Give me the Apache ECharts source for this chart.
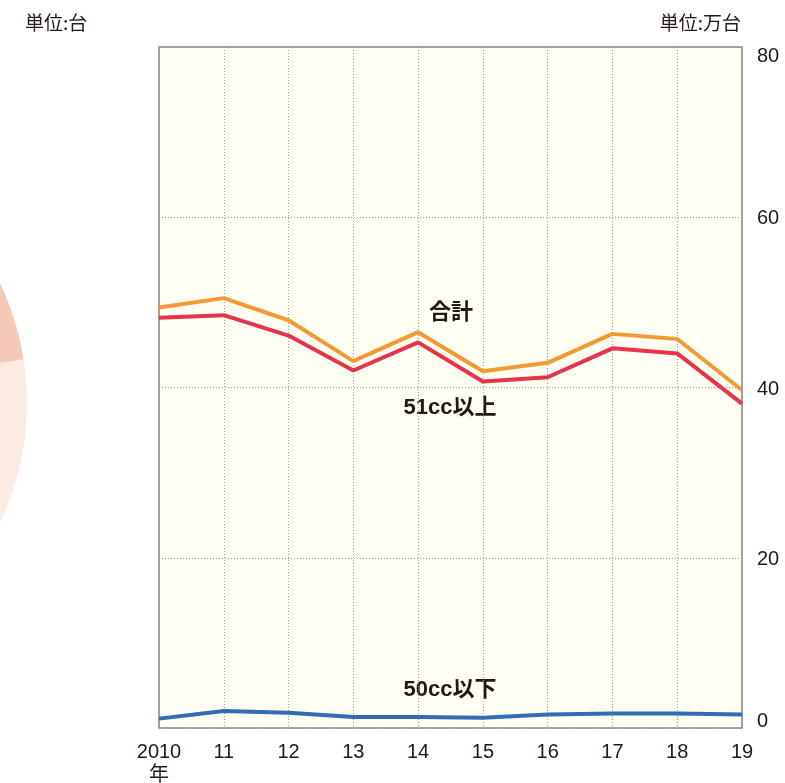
<!DOCTYPE html>
<html>
<head>
<meta charset="utf-8">
<script src="https://cdn.jsdelivr.net/npm/echarts@6/dist/echarts.min.js"></script>
<style>
  html, body { margin: 0; padding: 0; background: #ffffff; }
  #chart { width: 785px; height: 783px; }
</style>
</head>
<body>
<div id="chart"></div>
<script>
// Years on the x axis
const years = ['2010', '11', '12', '13', '14', '15', '16', '17', '18', '19'];
// Shipments, unit: 10,000 units
const total = [49.4, 50.5, 47.9, 43.1, 46.5, 41.9, 42.9, 46.3, 45.7, 39.7];   // 合計
const over51cc = [48.2, 48.5, 46.1, 42.0, 45.3, 40.7, 41.2, 44.6, 44.0, 38.1]; // 51cc以上
const upTo50cc = [1.1, 2.0, 1.8, 1.3, 1.3, 1.2, 1.6, 1.7, 1.7, 1.6];           // 50cc以下
// Neighbouring share chart (only its right edge lies on the page)
const shareNames = ['A', 'B', 'C'];
const shareValues = [35, 50, 15];
const shareColors = ['#fcebe2', '#fbe0d6', '#f6c8b8'];

const FONT = '"Liberation Sans", "Noto Sans CJK JP", sans-serif';
const INK = '#231815';
const GRID_LINE = { color: '#9a9a9a', type: [1, 2], width: 1 };

const chart = echarts.init(document.getElementById('chart'), null, { renderer: 'canvas' });

chart.setOption({
  animation: false,
  backgroundColor: '#ffffff',
  textStyle: { fontFamily: FONT },
  grid: {
    left: 159, right: 43, top: 47, bottom: 55,
    show: true,
    backgroundColor: '#fefef3',
    borderColor: '#858585',
    borderWidth: 1.5,
    containLabel: false,
    outerBoundsMode: 'none'
  },
  xAxis: {
    type: 'category',
    data: years,
    boundaryGap: false,
    axisLine: { show: false },
    axisTick: { show: false },
    axisLabel: {
      color: INK, fontSize: 20, margin: 13, lineHeight: 23, fontFamily: FONT,
      formatter: v => (v === '2010' ? '2010\n年' : v)
    },
    splitLine: { show: true, lineStyle: GRID_LINE }
  },
  yAxis: {
    type: 'value',
    position: 'right',
    min: 0, max: 80, interval: 20,
    axisLine: { show: false },
    axisTick: { show: false },
    axisLabel: {
      color: INK, fontSize: 20, margin: 15, fontFamily: FONT,
      formatter: v => (v === 0 ? '{lo|' + v + '}' : v === 80 ? '{hi|' + v + '}' : '{n|' + v + '}'),
      rich: {
        n: { fontSize: 20, color: INK, padding: [3, 0, 0, 0] },
        hi: { fontSize: 20, color: INK, padding: [18, 0, 0, 0] },
        lo: { fontSize: 20, color: INK, padding: [0, 0, 14, 0] }
      }
    },
    splitLine: { show: true, lineStyle: GRID_LINE }
  },
  series: [
    {
      type: 'pie',
      silent: true,
      center: [-253, 403],
      radius: 280,
      startAngle: 9,
      clockwise: true,
      label: { show: false },
      labelLine: { show: false },
      itemStyle: { borderWidth: 0 },
      data: shareValues.map((v, i) => ({ name: shareNames[i], value: v, itemStyle: { color: shareColors[i] } }))
    },
    {
      name: '合計', type: 'line', data: total, symbol: 'none',
      lineStyle: { color: '#f29b35', width: 4 }, z: 3
    },
    {
      name: '51cc以上', type: 'line', data: over51cc, symbol: 'none',
      lineStyle: { color: '#e8344a', width: 4 }, z: 4
    },
    {
      name: '50cc以下', type: 'line', data: upTo50cc, symbol: 'none',
      lineStyle: { color: '#2f6db5', width: 4 }, z: 4
    }
  ],
  graphic: [
    { type: 'text', left: 25, top: 13, style: { text: '単位:台', fill: INK, font: '19px "Noto Sans CJK JP", sans-serif' } },
    { type: 'text', right: 44, top: 13, style: { text: '単位:万台', fill: INK, font: '19px "Noto Sans CJK JP", sans-serif' } },
    { type: 'text', x: 451, y: 313, style: { text: '合計', fill: INK, align: 'center', verticalAlign: 'middle', font: 'bold 22px "Liberation Sans", "Noto Sans CJK JP", sans-serif' } },
    { type: 'text', x: 450, y: 408, style: { text: '51cc以上', fill: INK, align: 'center', verticalAlign: 'middle', font: 'bold 22px "Liberation Sans", "Noto Sans CJK JP", sans-serif' } },
    { type: 'text', x: 450, y: 690, style: { text: '50cc以下', fill: INK, align: 'center', verticalAlign: 'middle', font: 'bold 22px "Liberation Sans", "Noto Sans CJK JP", sans-serif' } }
  ]
});
</script>
</body>
</html>
